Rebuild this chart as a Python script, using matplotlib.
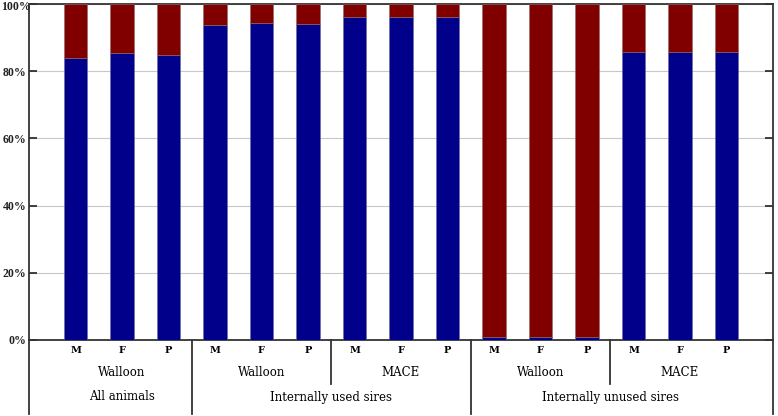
import matplotlib
matplotlib.use("Agg")
import matplotlib.pyplot as plt
import numpy as np

# categories
parents = ["M", "F", "P"] * 5
sources = ["Walloon", "Walloon", "MACE", "Walloon", "MACE"]
groups = ["All animals", "Internally used sires", "Internally unused sires"]
group_sizes = [1, 2, 2]  # number of source blocks per group

# share (%) of the blue part, rest is red
blue_pct = [83.9, 85.3, 84.7,
            93.7, 94.2, 94.1,
            96.1, 96.1, 96.1,
            1.0, 1.0, 1.0,
            85.8, 85.8, 85.8]
red_pct = [100 - v for v in blue_pct]

plt.rcParams['font.family'] = ['DejaVu Serif']

fig = plt.figure(figsize=(7.78, 4.16), dpi=100)
W, H = 778, 416
ax = fig.add_axes([29 / W, (H - 340) / H, 744 / W, 336 / H])

x = np.arange(1, len(blue_pct) + 1)
ax.bar(x, blue_pct, width=0.5, color="#00008B", edgecolor="#6a6a9a", linewidth=0.4, zorder=3)
ax.bar(x, red_pct, width=0.5, bottom=blue_pct, color="#800000", edgecolor="#8a6a6a", linewidth=0.4, zorder=3)

ax.set_xlim(0, 16)
ax.set_ylim(0, 100)
yt = list(range(0, 101, 20))
ax.set_yticks(yt)
# top label drawn separately so it stays inside the picture
ax.set_yticklabels([f"{v}%" if v < 100 else "" for v in yt], fontsize=8.5,
                   fontweight="bold", family="Liberation Serif")
fig.text(1 / W, 1 - 0.5 / H, "100%", ha="left", va="top", fontsize=8.5,
         fontweight="bold", family="Liberation Serif", color="#222222")
ax.yaxis.grid(True, color="#c8c8c8", linewidth=0.8, zorder=0)
ax.tick_params(axis="y", direction="in", length=6, width=1.2, right=True, pad=2, colors="#222222")
ax.tick_params(axis="x", length=0, pad=4)
ax.set_xticks(x)
ax.set_xticklabels(parents, fontsize=7, fontweight="bold")
for s in ax.spines.values():
    s.set_color("#333333")
    s.set_linewidth(1.3)

trans = ax.get_xaxis_transform()
px = 1 / 336.0

# source labels (second row)
for i, src in enumerate(sources):
    ax.text(3 * i + 2, -(372 - 340) * px, src, transform=trans, ha="center", va="center", fontsize=8.5)

# group labels (third row)
start = 0
for g, n in zip(groups, group_sizes):
    end = start + 3 * n
    ax.text((start + end) / 2 + 0.5, -(397 - 340) * px, g, transform=trans, ha="center", va="center", fontsize=8.5)
    start = end

# separators
for b in range(0, 16, 3):
    xb = b + 0.5 if b > 0 else 0
    if b == 15:
        xb = 16
    full = b in [0, 3, 9, 15]
    bottom = -(414 - 340) * px if full else -(384 - 340) * px
    ax.plot([xb, xb], [0, bottom], transform=trans, color="#333333", lw=1.3, clip_on=False)

fig.savefig("out.png", dpi=100)
